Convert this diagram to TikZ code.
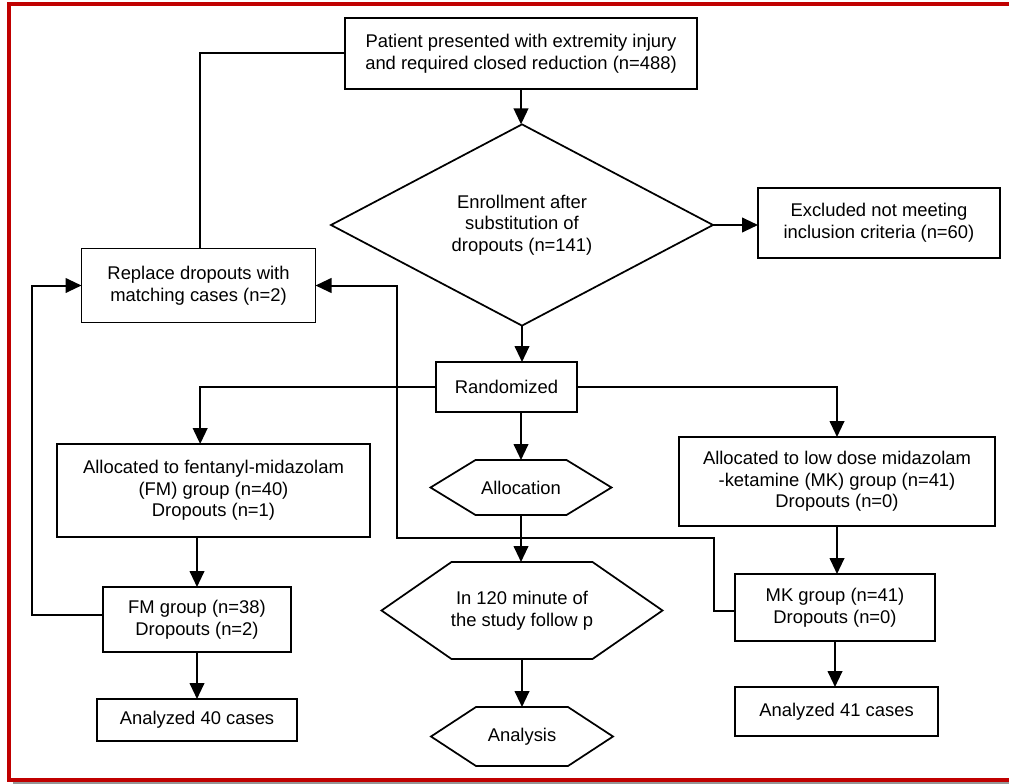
\documentclass[tikz,border=0pt]{standalone}
\usepackage{fontspec}
\setmainfont{Liberation Sans}
\usepackage{xcolor}
\usepackage{tikz}
\usetikzlibrary{
    calc,
    arrows.meta,
    shapes.geometric
}
\definecolor{framered}{RGB}{192,0,0}
\definecolor{shadowgray}{RGB}{150,150,150}
\tikzset{
    box/.style={draw, line width=1.3pt, align=center, inner sep=0pt, outer sep=0pt},
    decision/.style={diamond, draw, line width=1.3pt, align=center, inner sep=0pt, outer sep=0pt},
    hexa/.style={align=center, inner sep=0pt, outer sep=0pt},
    arr/.style={line width=1.5pt, -{Triangle[length=12pt,width=11pt]}},
    link/.style={line width=1.5pt}
}
% hexagon outline round a named node, #2 = slant offset
\newcommand{\hexframe}[2]{%
    \draw[line width=1.3pt, line join=miter] (#1.west) -- ([xshift=#2]#1.north west) -- ([xshift=-#2]#1.north east)
        -- (#1.east) -- ([xshift=-#2]#1.south east) -- ([xshift=#2]#1.south west) -- cycle;}

\begin{document}
\begin{tikzpicture}[x=0.75pt, y=-0.75pt, font=\fontsize{13.8}{16.3}\selectfont]
        \useasboundingbox (0,0) rectangle (1009,784);
        \begin{scope}
            \clip (0,0) rectangle (1009,784);
            \fill[shadowgray] (13,781) rectangle (1020,784);
            \draw[framered, line width=3pt] (1030,4) -- (9,4) -- (9,779.5) -- (1030,779.5);
        \end{scope}

        % boxes
        \draw (521,53.5) node[box, minimum width=264pt, minimum height=53pt](patient){Patient presented with extremity injury\\and required closed reduction (n=488)};
        \draw (522,225) node[decision, minimum width=286.5pt, minimum height=137pt](enroll){Enrollment after\\substitution of\\dropouts (n=141)};
        \draw (879,223) node[box, minimum width=181.5pt, minimum height=52pt](excluded){Excluded not meeting\\inclusion criteria (n=60)};
        \draw (198.5,285.5) node[box, minimum width=175.5pt, minimum height=55.5pt](replace){Replace dropouts with\\matching cases (n=2)};
        \draw (506.5,387) node[box, minimum width=105.75pt, minimum height=37.5pt](rand){Randomized};

        \draw (213.5,490.5) node[box, minimum width=234.75pt, minimum height=69.75pt](fmalloc){Allocated to fentanyl-midazolam\\(FM) group (n=40)\\Dropouts (n=1)};
        \draw (197,619.5) node[box, minimum width=141pt, minimum height=48.75pt](fmgroup){FM group (n=38)\\Dropouts (n=2)};
        \draw (197,720) node[box, minimum width=150pt, minimum height=31.5pt](fmana){Analyzed 40 cases};

        \draw (837,481.5) node[box, minimum width=237pt, minimum height=66.75pt](mkalloc){Allocated to low dose midazolam\\-ketamine (MK) group (n=41)\\Dropouts (n=0)};
        \draw (835,607.5) node[box, minimum width=150pt, minimum height=50.25pt](mkgroup){MK group (n=41)\\Dropouts (n=0)};
        \draw (836.5,711.5) node[box, minimum width=152.25pt, minimum height=36.75pt](mkana){Analyzed 41 cases};

        % hexagons
        \draw (521,487.5) node[hexa, minimum width=135.75pt, minimum height=41.25pt](alloc){Allocation};
        \hexframe{alloc}{33.75pt}
        \draw (522,610.5) node[hexa, minimum width=210.75pt, minimum height=72.75pt](follow){In 120 minute of\\the study follow p};
        \hexframe{follow}{52.5pt}
        \draw (522,736.5) node[hexa, minimum width=136.5pt, minimum height=44.25pt](analysis){Analysis};
        \hexframe{analysis}{33.75pt}

        % connectors
        \draw[arr] (patient.south) -- (patient.south |- enroll.north);
        \draw[arr] (enroll.east) -- (enroll.east -| excluded.west);
        \draw[link] (patient.west) -| ([xshift=1pt]replace.north);
        \draw[arr] (enroll.south) -- (enroll.south |- rand.north);
        \draw[arr] (rand.west) -| ([xshift=-10pt]fmalloc.north);
        \draw[arr] (rand.east) -| (mkalloc.north);
        \draw[arr] (alloc.north |- rand.south) -- (alloc.north);
        \draw[arr] (alloc.south) -- (alloc.south |- follow.north);
        \draw[arr] (analysis.north |- follow.south) -- (analysis.north);

        \draw[arr] (fmgroup.north |- fmalloc.south) -- (fmgroup.north);
        \draw[arr] (fmgroup.south) -- (fmana.north);
        \draw[arr] ([yshift=3.5pt]fmgroup.west) -- ++(-71,0) |- (replace.west);

        \draw[arr] (mkalloc.south) -- (mkalloc.south |- mkgroup.north);
        \draw[arr] (mkgroup.south) -- (mkgroup.south |- mkana.north);
        \coordinate (mkturn) at (397,538);
        \draw[arr] ([yshift=-2.5pt]mkgroup.west) -- ++(-21,0) |- (mkturn) |- (replace.east);
    \end{tikzpicture}
\end{document}
